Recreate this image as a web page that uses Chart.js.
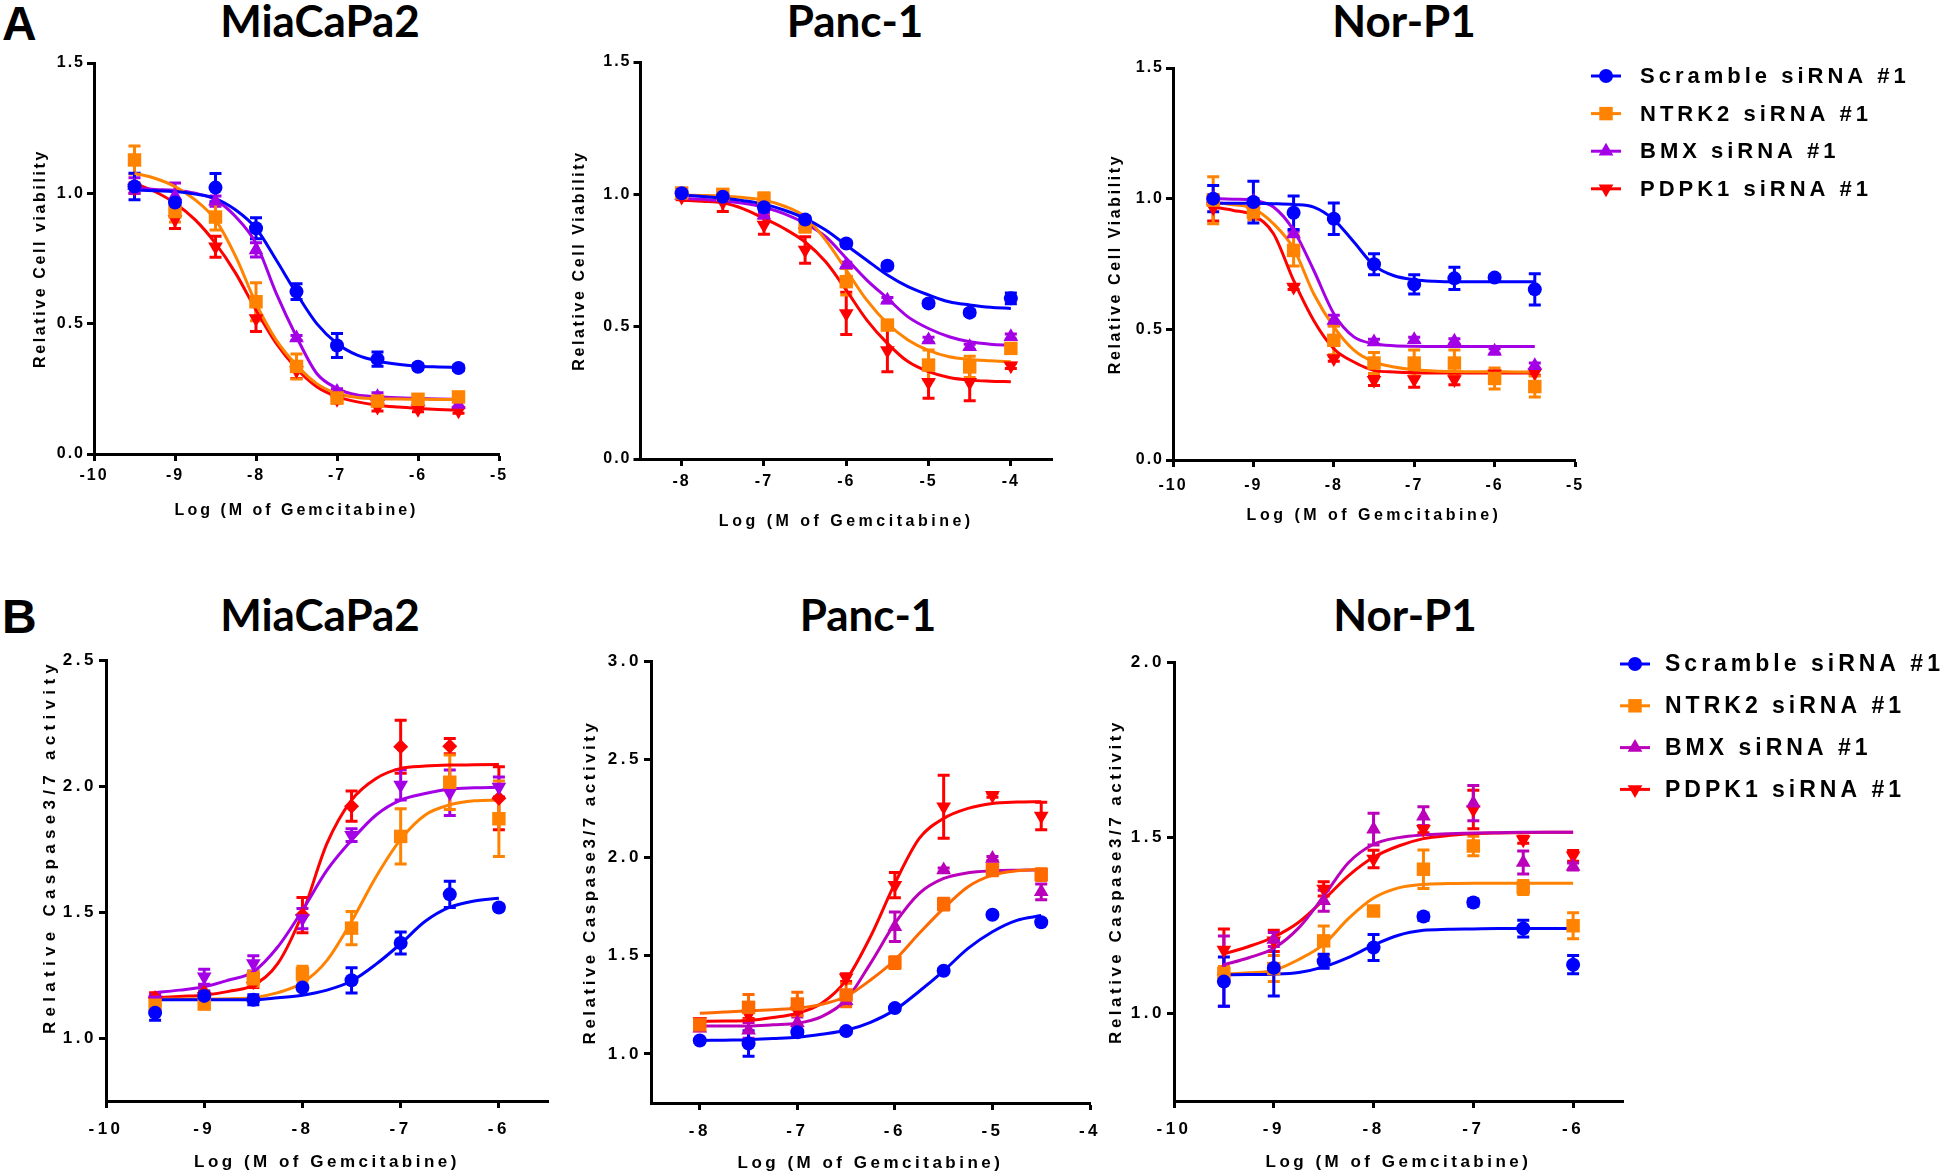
<!DOCTYPE html>
<html>
<head>
<meta charset="utf-8">
<title>Gemcitabine response</title>
<script src="https://cdn.jsdelivr.net/npm/chart.js@4.4.1/dist/chart.umd.min.js"></script>
<style>
  html, body { margin: 0; padding: 0; background: #fff; }
  body { position: relative; width: 1945px; height: 1175px; overflow: hidden; font-family: "Liberation Sans", Arial, sans-serif; }
  canvas { position: absolute; }
  .letter { position: absolute; font: bold 48px/48px "Liberation Sans", Arial, sans-serif; color: #000; }
  .ttl { position: absolute; font: 700 44px/44px Lato, "Open Sans", sans-serif; color: #000; transform: translateX(-50%); white-space: nowrap; }
</style>
</head>
<body>
<div class="letter" style="left:2px;top:0px">A</div>
<div class="letter" style="left:2px;top:593px">B</div>
<div class="ttl" style="left:320px;top:-2px">MiaCaPa2</div>
<div class="ttl" style="left:855px;top:-2px">Panc-1</div>
<div class="ttl" style="left:1404px;top:-2px">Nor-P1</div>
<div class="ttl" style="left:320px;top:592px">MiaCaPa2</div>
<div class="ttl" style="left:868px;top:592px">Panc-1</div>
<div class="ttl" style="left:1405px;top:592px">Nor-P1</div>
<canvas id="a1"></canvas>
<canvas id="a2"></canvas>
<canvas id="a3"></canvas>
<canvas id="b1"></canvas>
<canvas id="b2"></canvas>
<canvas id="b3"></canvas>
<script>
// series order: Scramble, NTRK2, BMX, PDPK1
const seriesNames = ['Scramble siRNA #1', 'NTRK2 siRNA #1', 'BMX siRNA #1', 'PDPK1 siRNA #1'];

// ---- A: MiaCaPa2, viability ----
const a1Dose = [-9.5, -9, -8.5, -8, -7.5, -7, -6.5, -6, -5.5];
const a1Mean = [
  [1.026, 0.965, 1.022, 0.866, 0.623, 0.416, 0.364, 0.335, 0.33],
  [1.128, 0.93, 0.909, 0.584, 0.336, 0.215, 0.203, 0.21, 0.219],
  [1.03, 0.99, 0.97, 0.783, 0.445, 0.24, 0.22, 0.2, 0.19],
  [1.02, 0.90, 0.795, 0.52, 0.32, 0.21, 0.18, 0.172, 0.166]
];
const a1Err = [
  [0.051, 0.045, 0.054, 0.04, 0.03, 0.046, 0.027, 0.01, 0.01],
  [0.054, 0.04, 0.05, 0.073, 0.048, 0.02, 0.015, 0.015, 0.015],
  [0.03, 0.05, 0.02, 0.027, 0.01, 0.01, 0.015, 0.01, 0.01],
  [0.02, 0.035, 0.04, 0.05, 0.03, 0.01, 0.015, 0.01, 0.01]
];
const a1FitDose = [-9.5, -9.25, -9, -8.75, -8.5, -8.25, -8, -7.75, -7.5, -7.25, -7, -6.75, -6.5, -6.25, -6, -5.75, -5.5];
const a1Fit = [
  [1.013, 1.01, 1.007, 0.997, 0.98, 0.936, 0.866, 0.744, 0.616, 0.5, 0.424, 0.379, 0.357, 0.344, 0.337, 0.334, 0.332],
  [1.077, 1.058, 1.026, 0.975, 0.898, 0.757, 0.578, 0.437, 0.341, 0.27, 0.232, 0.217, 0.212, 0.211, 0.21, 0.209, 0.209],
  [1.02, 1.015, 1.012, 1.0, 0.975, 0.91, 0.808, 0.616, 0.45, 0.309, 0.252, 0.226, 0.22, 0.216, 0.213, 0.211, 0.21],
  [1.039, 1.007, 0.962, 0.898, 0.808, 0.693, 0.552, 0.424, 0.328, 0.258, 0.22, 0.2, 0.187, 0.18, 0.175, 0.171, 0.168]
];

// ---- A: Panc-1, viability ----
const a2Dose = [-8, -7.5, -7, -6.5, -6, -5.5, -5, -4.5, -4];
const a2Mean = [
  [1.004, 0.991, 0.951, 0.905, 0.814, 0.73, 0.588, 0.553, 0.607],
  [1.005, 1.0, 0.985, 0.878, 0.67, 0.506, 0.355, 0.348, 0.418],
  [0.995, 0.99, 0.921, 0.885, 0.733, 0.60, 0.45, 0.424, 0.462],
  [0.99, 0.97, 0.884, 0.79, 0.55, 0.41, 0.29, 0.29, 0.352]
];
const a2Err = [
  [0.01, 0.01, 0.01, 0.01, 0.01, 0.01, 0.01, 0.01, 0.02],
  [0.01, 0.01, 0.02, 0.02, 0.05, 0.01, 0.057, 0.04, 0.015],
  [0.01, 0.01, 0.01, 0.01, 0.01, 0.01, 0.01, 0.01, 0.01],
  [0.01, 0.035, 0.035, 0.05, 0.08, 0.08, 0.06, 0.07, 0.01]
];
const a2FitDose = [-8, -7.75, -7.5, -7.25, -7, -6.75, -6.5, -6.25, -6, -5.75, -5.5, -5.25, -5, -4.75, -4.5, -4.25, -4];
const a2Fit = [
  [0.997, 0.992, 0.985, 0.976, 0.963, 0.94, 0.909, 0.865, 0.808, 0.751, 0.695, 0.651, 0.62, 0.594, 0.582, 0.573, 0.569],
  [0.997, 0.996, 0.994, 0.988, 0.978, 0.955, 0.915, 0.827, 0.714, 0.60, 0.512, 0.45, 0.41, 0.386, 0.376, 0.371, 0.367],
  [0.985, 0.981, 0.976, 0.966, 0.951, 0.926, 0.89, 0.84, 0.758, 0.676, 0.607, 0.537, 0.493, 0.462, 0.443, 0.434, 0.43],
  [0.978, 0.974, 0.968, 0.945, 0.909, 0.87, 0.82, 0.745, 0.638, 0.525, 0.437, 0.368, 0.33, 0.308, 0.298, 0.294, 0.292]
];

// ---- A: Nor-P1, viability ----
const a3Dose = [-9.5, -9, -8.5, -8, -7.5, -7, -6.5, -6, -5.5];
const a3Mean = [
  [1.0, 0.987, 0.946, 0.923, 0.749, 0.672, 0.695, 0.698, 0.653],
  [0.994, 0.949, 0.802, 0.458, 0.371, 0.371, 0.371, 0.312, 0.281],
  [1.0, 0.99, 0.865, 0.534, 0.452, 0.46, 0.454, 0.416, 0.361],
  [0.965, 0.95, 0.662, 0.388, 0.305, 0.308, 0.308, 0.33, 0.334]
];
const a3Err = [
  [0.05, 0.08, 0.064, 0.06, 0.04, 0.037, 0.043, 0.01, 0.06],
  [0.09, 0.03, 0.06, 0.055, 0.04, 0.05, 0.05, 0.04, 0.04],
  [0.01, 0.01, 0.01, 0.02, 0.01, 0.01, 0.01, 0.01, 0.01],
  [0.05, 0.02, 0.01, 0.01, 0.02, 0.03, 0.02, 0.01, 0.01]
];
const a3FitDose = [-9.5, -9.25, -9, -8.75, -8.5, -8.25, -8, -7.75, -7.5, -7.25, -7, -6.75, -6.5, -6.25, -6, -5.75, -5.5];
const a3Fit = [
  [0.982, 0.982, 0.982, 0.981, 0.978, 0.968, 0.92, 0.834, 0.745, 0.705, 0.69, 0.684, 0.682, 0.682, 0.682, 0.682, 0.682],
  [0.987, 0.977, 0.962, 0.904, 0.809, 0.636, 0.509, 0.42, 0.375, 0.356, 0.345, 0.341, 0.339, 0.338, 0.338, 0.337, 0.337],
  [1.0, 0.998, 0.994, 0.968, 0.879, 0.726, 0.56, 0.471, 0.445, 0.437, 0.435, 0.434, 0.434, 0.434, 0.434, 0.434, 0.434],
  [0.968, 0.955, 0.936, 0.866, 0.687, 0.534, 0.426, 0.375, 0.343, 0.337, 0.334, 0.333, 0.333, 0.333, 0.333, 0.333, 0.333]
];

// ---- B: MiaCaPa2, caspase 3/7 ----
const b1Dose = [-9.5, -9, -8.5, -8, -7.5, -7, -6.5, -6];
const b1Mean = [
  [1.10, 1.167, 1.152, 1.2, 1.229, 1.377, 1.57, 1.518],
  [1.13, 1.135, 1.235, 1.255, 1.436, 1.80, 2.015, 1.87],
  [1.152, 1.243, 1.296, 1.474, 1.805, 2.004, 1.973, 1.996],
  [1.16, 1.18, 1.22, 1.488, 1.92, 2.156, 2.158, 1.951]
];
const b1Err = [
  [0.03, 0.02, 0.02, 0.01, 0.05, 0.044, 0.052, 0.01],
  [0.02, 0.02, 0.03, 0.03, 0.066, 0.11, 0.108, 0.15],
  [0.02, 0.03, 0.03, 0.04, 0.025, 0.06, 0.09, 0.04],
  [0.02, 0.03, 0.02, 0.07, 0.06, 0.105, 0.03, 0.125]
];
const b1FitDose = [-9.5, -9.25, -9, -8.75, -8.5, -8.25, -8, -7.75, -7.5, -7.25, -7, -6.75, -6.5, -6.25, -6];
const b1Fit = [
  [1.152, 1.152, 1.152, 1.152, 1.152, 1.16, 1.17, 1.19, 1.226, 1.293, 1.374, 1.463, 1.519, 1.544, 1.555],
  [1.155, 1.155, 1.155, 1.156, 1.16, 1.18, 1.219, 1.308, 1.463, 1.64, 1.788, 1.885, 1.925, 1.941, 1.944],
  [1.18, 1.19, 1.203, 1.23, 1.263, 1.362, 1.507, 1.666, 1.785, 1.885, 1.944, 1.97, 1.988, 1.993, 1.995],
  [1.16, 1.165, 1.17, 1.185, 1.21, 1.296, 1.494, 1.772, 1.944, 2.03, 2.07, 2.079, 2.083, 2.084, 2.085]
];

// ---- B: Panc-1, caspase 3/7 ----
const b2Dose = [-8, -7.5, -7, -6.5, -6, -5.5, -5, -4.5];
const b2Mean = [
  [1.068, 1.053, 1.11, 1.116, 1.233, 1.423, 1.708, 1.67],
  [1.148, 1.237, 1.254, 1.3, 1.465, 1.762, 1.937, 1.913],
  [1.13, 1.12, 1.158, 1.27, 1.647, 1.936, 1.995, 1.825],
  [1.165, 1.2, 1.22, 1.388, 1.859, 2.258, 2.317, 2.211]
];
const b2Err = [
  [0.01, 0.065, 0.01, 0.01, 0.01, 0.01, 0.01, 0.01],
  [0.03, 0.065, 0.06, 0.06, 0.03, 0.03, 0.03, 0.03],
  [0.01, 0.04, 0.03, 0.02, 0.075, 0.01, 0.01, 0.04],
  [0.01, 0.02, 0.02, 0.02, 0.064, 0.16, 0.01, 0.07]
];
const b2FitDose = [-8, -7.75, -7.5, -7.25, -7, -6.75, -6.5, -6.25, -6, -5.75, -5.5, -5.25, -5, -4.75, -4.5];
const b2Fit = [
  [1.068, 1.07, 1.072, 1.078, 1.085, 1.1, 1.12, 1.161, 1.224, 1.319, 1.423, 1.537, 1.622, 1.68, 1.704],
  [1.207, 1.213, 1.219, 1.225, 1.232, 1.252, 1.292, 1.376, 1.478, 1.614, 1.741, 1.851, 1.91, 1.932, 1.94],
  [1.142, 1.142, 1.142, 1.148, 1.156, 1.19, 1.275, 1.461, 1.664, 1.817, 1.893, 1.922, 1.932, 1.935, 1.936],
  [1.165, 1.167, 1.17, 1.185, 1.207, 1.258, 1.376, 1.597, 1.868, 2.097, 2.199, 2.25, 2.275, 2.282, 2.284]
];

// ---- B: Nor-P1, caspase 3/7 ----
const b3Dose = [-9.5, -9, -8.5, -8, -7.5, -7, -6.5, -6];
const b3Mean = [
  [1.09, 1.129, 1.148, 1.187, 1.275, 1.315, 1.241, 1.138],
  [1.113, 1.127, 1.206, 1.291, 1.41, 1.476, 1.358, 1.249],
  [1.12, 1.21, 1.32, 1.524, 1.561, 1.598, 1.429, 1.418],
  [1.18, 1.206, 1.354, 1.439, 1.524, 1.58, 1.494, 1.448]
];
const b3Err = [
  [0.07, 0.08, 0.02, 0.037, 0.01, 0.01, 0.024, 0.026],
  [0.02, 0.037, 0.042, 0.01, 0.055, 0.028, 0.02, 0.037],
  [0.1, 0.02, 0.03, 0.045, 0.027, 0.05, 0.033, 0.01],
  [0.06, 0.03, 0.02, 0.025, 0.01, 0.055, 0.01, 0.015]
];
const b3FitDose = [-9.5, -9.25, -9, -8.75, -8.5, -8.25, -8, -7.75, -7.5, -7.25, -7, -6.75, -6.5, -6.25, -6];
const b3Fit = [
  [1.109, 1.11, 1.111, 1.116, 1.132, 1.159, 1.194, 1.222, 1.236, 1.239, 1.24, 1.241, 1.241, 1.241, 1.241],
  [1.111, 1.115, 1.122, 1.153, 1.196, 1.27, 1.328, 1.357, 1.367, 1.369, 1.37, 1.37, 1.37, 1.37, 1.37],
  [1.138, 1.158, 1.185, 1.243, 1.333, 1.429, 1.481, 1.5, 1.508, 1.511, 1.513, 1.514, 1.515, 1.515, 1.515],
  [1.169, 1.19, 1.217, 1.259, 1.323, 1.392, 1.444, 1.476, 1.497, 1.506, 1.511, 1.513, 1.514, 1.515, 1.515]
];

// tick values
const xTicksA1 = [-10, -9, -8, -7, -6, -5];
const xTicksA2 = [-8, -7, -6, -5, -4];
const xTicksB1 = [-10, -9, -8, -7, -6];
const yTicksA = [0, 0.5, 1.0, 1.5];
const yTicksB1 = [1.0, 1.5, 2.0, 2.5];
const yTicksB2 = [1.0, 1.5, 2.0, 2.5, 3.0];
const yTicksB3 = [1.0, 1.5, 2.0];

const xTitle = 'Log (M of Gemcitabine)';

// ---------- styles ----------
const BLUE = '#0000ff', RED = '#ff0000';
const ORANGE = '#ff8200', ORANGE_RED = '#ff6a00';
const PURPLE = '#a400e6', MAGENTA = '#bb00bb';
const SH = {
  circle: { style: 'circle', rot: 0, r: 7 },
  square: { style: 'rect', rot: 0, r: 9.5 },
  up: { style: 'triangle', rot: 0, r: 8.5 },
  down: { style: 'triangle', rot: 180, r: 8.5 },
  diamond: { style: 'rectRot', rot: 0, r: 7.5 }
};

const errorBars = {
  id: 'errorBars',
  beforeDatasetsDraw(chart) {
    const { ctx, scales: { x, y } } = chart;
    ctx.save();
    for (let i = chart.data.datasets.length - 1; i >= 0; i--) {
      const ds = chart.data.datasets[i];
      if (!ds.errors) continue;
      ctx.strokeStyle = ds.borderColor;
      ctx.lineWidth = 3;
      ds.data.forEach((p, j) => {
        const e = ds.errors[j];
        if (!e) return;
        const px = x.getPixelForValue(p.x);
        const top = y.getPixelForValue(p.y + e), bot = y.getPixelForValue(p.y - e);
        ctx.beginPath();
        ctx.moveTo(px, top); ctx.lineTo(px, bot);
        ctx.moveTo(px - 6, top); ctx.lineTo(px + 6, top);
        ctx.moveTo(px - 6, bot); ctx.lineTo(px + 6, bot);
        ctx.stroke();
      });
    }
    ctx.restore();
  }
};

const sideLegend = {
  id: 'sideLegend',
  afterDraw(chart, args, opts) {
    if (!opts.show) return;
    const ctx = chart.ctx;
    ctx.save();
    ctx.font = `bold ${opts.size}px "Liberation Sans", Arial, sans-serif`;
    ctx.letterSpacing = opts.gapPx + 'px';
    ctx.textBaseline = 'middle';
    ctx.textAlign = 'left';
    chart.data.datasets.filter(d => d.isMarker).forEach((ds, i) => {
      const y = opts.top + i * opts.step;
      ctx.strokeStyle = ds.borderColor;
      ctx.lineWidth = 3;
      ctx.beginPath();
      ctx.moveTo(opts.x - 15, y); ctx.lineTo(opts.x + 15, y);
      ctx.stroke();
      ctx.fillStyle = ds.backgroundColor;
      Chart.helpers.drawPoint(ctx, { pointStyle: ds.legendStyle.style, rotation: ds.legendStyle.rot, radius: ds.legendStyle.r, borderWidth: 0 }, opts.x, y);
      ctx.fillStyle = '#000';
      ctx.fillText(ds.label, opts.textX, y + 1);
    });
    ctx.restore();
  }
};

// letter spacing for tick labels and the axis title, plus an optional nudge of the title
function spaceScale(s, tickSp, titleSp, shift) {
  if (s._spaced) return;
  s._spaced = true;
  const drawLabels = s.drawLabels, drawTitle = s.drawTitle;
  s.drawLabels = function (a) {
    this.ctx.save(); this.ctx.letterSpacing = tickSp + 'px';
    drawLabels.call(this, a); this.ctx.restore();
  };
  s.drawTitle = function (a) {
    this.ctx.save(); this.ctx.letterSpacing = titleSp + 'px';
    this.ctx.translate(shift[0], shift[1]);
    drawTitle.call(this, a); this.ctx.restore();
  };
}

function makePanel(id, p) {
  const cv = document.getElementById(id);
  const [cx, cy, cw, ch] = p.rect;
  cv.style.left = cx + 'px';
  cv.style.top = cy + 'px';
  cv.width = cw; cv.height = ch;
  const [L, T, R, B] = p.area;
  const lh = p.font * 1.2;
  const fontSpec = { family: '"Liberation Sans", Arial, sans-serif', weight: 'bold', size: p.font };

  const datasets = [];
  p.mean.forEach((m, i) => datasets.push({
    type: 'scatter',
    label: seriesNames[i],
    isMarker: true,
    data: p.dose.map((d, j) => ({ x: d, y: m[j] })),
    errors: p.err[i],
    backgroundColor: p.colors[i],
    borderColor: p.colors[i],
    pointStyle: p.shapes[i].style,
    pointRotation: p.shapes[i].rot,
    pointRadius: p.shapes[i].r,
    pointBorderWidth: 0,
    legendStyle: p.shapes[i],
    showLine: false,
    clip: false,
    order: 0
  }));
  p.fit.forEach((f, i) => datasets.push({
    type: 'line',
    data: p.fitDose.map((d, j) => ({ x: d, y: f[j] })),
    borderColor: p.colors[i],
    borderWidth: 3,
    pointRadius: 0,
    cubicInterpolationMode: 'monotone',
    fill: false,
    clip: false,
    order: 1
  }));

  const axisCommon = {
    border: { display: true, color: '#000', width: 3 },
    grid: { display: true, drawOnChartArea: false, drawTicks: true, tickLength: 7, tickWidth: 3, tickColor: '#000' }
  };

  return new Chart(cv, {
    type: 'scatter',
    data: { datasets },
    plugins: [errorBars, sideLegend],
    options: {
      responsive: false,
      animation: false,
      devicePixelRatio: 1,
      events: [],
      layout: { padding: { top: T - cy, right: cx + cw - R, left: 0, bottom: 0 } },
      plugins: {
        legend: { display: false },
        tooltip: { enabled: false },
        sideLegend: p.legend || { show: false }
      },
      scales: {
        x: Object.assign({}, axisCommon, {
          type: 'linear', min: p.xRange[0], max: p.xRange[1],
          afterBuildTicks: s => { s.ticks = p.xTicks.map(v => ({ value: v })); },
          afterFit: s => { s.height = cy + ch - B; spaceScale(s, p.tickSp, p.xTitleSp, [0, 0]); },
          ticks: { color: '#000', font: fontSpec, padding: p.xTickPad, maxRotation: 0, autoSkip: false, callback: v => String(v) },
          title: { display: true, text: xTitle, color: '#000', font: fontSpec, padding: { top: 0, bottom: (cy + ch) - p.xTitleY - lh / 2 } }
        }),
        y: Object.assign({}, axisCommon, {
          type: 'linear', min: p.yRange[0], max: p.yRange[1],
          afterBuildTicks: s => { s.ticks = p.yTicks.map(v => ({ value: v })); },
          afterFit: s => { s.width = L - cx; spaceScale(s, p.tickSp, p.yTitleSp, [0, p.yTitleShift || 0]); },
          ticks: { color: '#000', font: fontSpec, padding: 2, autoSkip: false, callback: v => v.toFixed(1) },
          title: { display: true, text: p.yTitle, color: '#000', font: fontSpec, padding: { top: p.yTitleX - cx - lh / 2, bottom: 0 } }
        })
      }
    }
  });
}

const shapesStd = [SH.circle, SH.square, SH.up, SH.down];

makePanel('a1', {
  rect: [0, 40, 540, 500], area: [94, 63, 499, 454],
  dose: a1Dose, mean: a1Mean, err: a1Err, fitDose: a1FitDose, fit: a1Fit,
  colors: [BLUE, ORANGE, PURPLE, RED], shapes: shapesStd,
  xRange: [-10, -5], xTicks: xTicksA1, yRange: [0, 1.5], yTicks: yTicksA,
  yTitle: 'Relative Cell viability', font: 16, tickSp: 2, xTitleSp: 3, yTitleSp: 2.6,
  xTickPad: 5, xTitleY: 511, yTitleX: 41
});
makePanel('a2', {
  rect: [560, 40, 540, 500], area: [640.5, 62, 1052, 459],
  dose: a2Dose, mean: a2Mean, err: a2Err, fitDose: a2FitDose, fit: a2Fit,
  colors: [BLUE, ORANGE, PURPLE, RED], shapes: shapesStd,
  xRange: [-8.5, -3.5], xTicks: xTicksA2, yRange: [0, 1.5], yTicks: yTicksA,
  yTitle: 'Relative Cell Viability', font: 16, tickSp: 2, xTitleSp: 3.5, yTitleSp: 2.6,
  xTickPad: 6, xTitleY: 522, yTitleX: 580
});
makePanel('a3', {
  rect: [1100, 40, 845, 500], area: [1173, 68, 1575, 460],
  dose: a3Dose, mean: a3Mean, err: a3Err, fitDose: a3FitDose, fit: a3Fit,
  colors: [BLUE, ORANGE, PURPLE, RED], shapes: shapesStd,
  xRange: [-10, -5], xTicks: xTicksA1, yRange: [0, 1.5], yTicks: yTicksA,
  yTitle: 'Relative Cell Viability', font: 16, tickSp: 2, xTitleSp: 3.5, yTitleSp: 2.6,
  xTickPad: 9, xTitleY: 516, yTitleX: 1116,
  legend: { show: true, x: 1606 - 1100, textX: 1640 - 1100, top: 76 - 40, step: 37.6, size: 22, gapPx: 4 }
});
makePanel('b1', {
  rect: [0, 630, 560, 545], area: [106, 660, 548, 1101],
  dose: b1Dose, mean: b1Mean, err: b1Err, fitDose: b1FitDose, fit: b1Fit,
  colors: [BLUE, ORANGE, PURPLE, RED], shapes: [SH.circle, SH.square, SH.down, SH.diamond],
  xRange: [-10, -5.5], xTicks: xTicksB1, yRange: [0.75, 2.5], yTicks: yTicksB1,
  yTitle: 'Relative Caspase3/7 activity', font: 17, tickSp: 3.5, xTitleSp: 3.5, yTitleSp: 5.3, yTitleShift: -34,
  xTickPad: 11, xTitleY: 1162, yTitleX: 50
});
makePanel('b2', {
  rect: [560, 630, 560, 545], area: [651, 661, 1090, 1103],
  dose: b2Dose, mean: b2Mean, err: b2Err, fitDose: b2FitDose, fit: b2Fit,
  colors: [BLUE, ORANGE_RED, MAGENTA, RED], shapes: shapesStd,
  xRange: [-8.5, -4], xTicks: xTicksA2, yRange: [0.75, 3.0], yTicks: yTicksB2,
  yTitle: 'Relative Caspase3/7 activity', font: 17, tickSp: 3.5, xTitleSp: 3.5, yTitleSp: 3.5,
  xTickPad: 11, xTitleY: 1163, yTitleX: 590
});
makePanel('b3', {
  rect: [1100, 630, 845, 545], area: [1174, 662, 1623, 1101],
  dose: b3Dose, mean: b3Mean, err: b3Err, fitDose: b3FitDose, fit: b3Fit,
  colors: [BLUE, ORANGE, MAGENTA, RED], shapes: shapesStd,
  xRange: [-10, -5.5], xTicks: xTicksB1, yRange: [0.75, 2.0], yTicks: yTicksB3,
  yTitle: 'Relative Caspase3/7 activity', font: 17, tickSp: 3.5, xTitleSp: 3.5, yTitleSp: 3.5,
  xTickPad: 11, xTitleY: 1162, yTitleX: 1116,
  legend: { show: true, x: 1635 - 1100, textX: 1665 - 1100, top: 664 - 630, step: 41.8, size: 23, gapPx: 4 }
});
</script>
</body>
</html>
